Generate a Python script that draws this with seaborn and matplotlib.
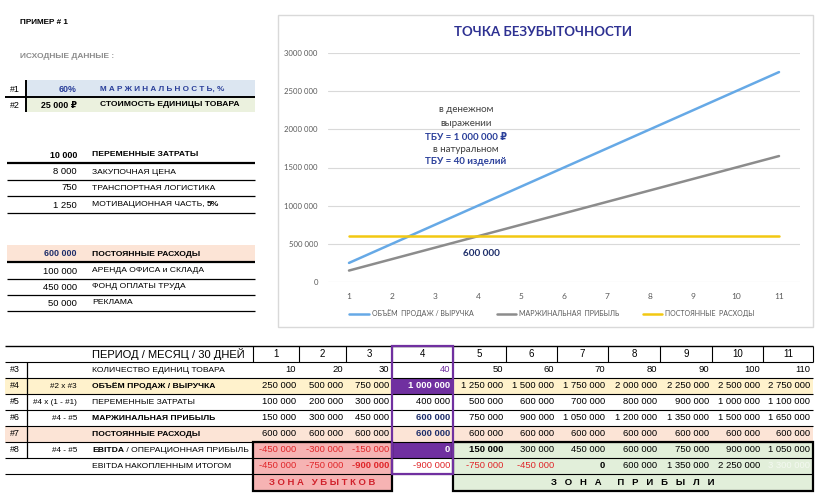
import matplotlib
matplotlib.use("Agg")
import matplotlib.pyplot as plt
import seaborn as sns
import pandas as pd
from matplotlib.patches import Rectangle

sns.set_theme(style="white")
TF = ["Liberation Sans", "DejaVu Sans"]
CF = ["Lato", "DejaVu Sans"]
plt.rcParams["font.family"] = TF

# ---------------- data ----------------
margin_pct = "60%"
unit_price = "25 000 ₽"
var_total = "10 000"
var_items = ["8 000", "750", "1 250"]
var_labels = ["ЗАКУПОЧНАЯ ЦЕНА", "ТРАНСПОРТНАЯ ЛОГИСТИКА", "МОТИВАЦИОННАЯ ЧАСТЬ, "]
fix_total = "600 000"
fix_items = ["100 000", "450 000", "50 000"]
fix_labels = ["АРЕНДА ОФИСА и СКЛАДА", "ФОНД ОПЛАТЫ ТРУДА", "РЕКЛАМА"]

periods = [1, 2, 3, 4, 5, 6, 7, 8, 9, 10, 11]
units = [10, 20, 30, 40, 50, 60, 70, 80, 90, 100, 110]
revenue = [250000, 500000, 750000, 1000000, 1250000, 1500000, 1750000, 2000000, 2250000, 2500000, 2750000]
variable = [100000, 200000, 300000, 400000, 500000, 600000, 700000, 800000, 900000, 1000000, 1100000]
margin = [150000, 300000, 450000, 600000, 750000, 900000, 1050000, 1200000, 1350000, 1500000, 1650000]
fixed = [600000, 600000, 600000, 600000, 600000, 600000, 600000, 600000, 600000, 600000, 600000]
ebitda = [-450000, -300000, -150000, 0, 150000, 300000, 450000, 600000, 750000, 900000, 1050000]
ebitda_cum = [-450000, -750000, -900000, -900000, -750000, -450000, 0, 600000, 1350000, 2250000, 3300000]

series_names = ["ОБЪЁМ  ПРОДАЖ / ВЫРУЧКА", "МАРЖИНАЛЬНАЯ  ПРИБЫЛЬ", "ПОСТОЯННЫЕ  РАСХОДЫ"]
ytick_vals = [0, 500000, 1000000, 1500000, 2000000, 2500000, 3000000]
ytick_labels = ["0", "500 000", "1000 000", "1500 000", "2000 000", "2500 000", "3000 000"]

# ---------------- figure ----------------
fig = plt.figure(figsize=(8.2, 5.04), dpi=100)
ax = fig.add_axes([0, 0, 1, 1])
ax.set_xlim(0, 820)
ax.set_ylim(504, 0)
ax.axis("off")

NAVY = "#1f2f6b"
BLUE_T = "#2a3f9a"
PURPLE = "#7030a0"
RED = "#e0262a"
PINK = "#f6b3b3"
GREEN = "#e2efda"
YEL = "#fff2cc"
PEACH = "#fce4d6"
LS = 6.1   # label size
NS = 6.8   # number size


def fmt(v):
    return f"{v:,}".replace(",", " ")


def t(x, y, s, size=LS, weight="normal", color="black", ha="left", family=None, **kw):
    return ax.text(x, y, s, fontsize=size, fontweight=weight, color=color, ha=ha, va="center",
                   family=family or TF, **kw)


def rect(x0, y0, x1, y1, fc="none", ec="none", lw=0, z=0):
    ax.add_patch(Rectangle((x0, y0), x1 - x0, y1 - y0, facecolor=fc, edgecolor=ec, linewidth=lw, zorder=z))


def hline(y, x0, x1, lw=0.8, c="black", z=2):
    ax.plot([x0, x1], [y, y], color=c, lw=lw, zorder=z, solid_capstyle="butt")


def vline(x, y0, y1, lw=0.8, c="black", z=2):
    ax.plot([x, x], [y0, y1], color=c, lw=lw, zorder=z, solid_capstyle="butt")


def after(txt):
    fig.canvas.draw()
    bb = txt.get_window_extent()
    return ax.transData.inverted().transform((bb.x1, bb.y0))[0]


# ---------------- top-left block ----------------
t(20, 22, "ПРИМЕР # 1", size=5.9, weight="bold")
t(20, 57, "ИСХОДНЫЕ ДАННЫЕ :", size=6.0, weight="bold", color="#8c8c8c")

rect(27, 80, 255, 97, fc="#dce6f1")
rect(27, 97, 255, 112, fc="#ebf1de")
hline(97, 5, 255, lw=1.4)
vline(26, 80, 112, lw=1.4)
t(10, 89, "#1", size=6.4)
t(10, 105, "#2", size=6.4)
t(77, 89, margin_pct, size=6.4, weight="bold", color=BLUE_T, ha="right")
t(77, 105, unit_price, size=6.4, weight="bold", ha="right")
t(100, 89, "М А Р Ж И Н А Л Ь Н О С Т Ь, %", size=5.9, weight="bold", color=BLUE_T)
t(100, 105, "СТОИМОСТЬ ЕДИНИЦЫ ТОВАРА", size=6.1, weight="bold")

# variable costs
t(77, 155, var_total, size=6.4, weight="bold", ha="right")
t(92, 155, "ПЕРЕМЕННЫЕ ЗАТРАТЫ", size=6.1, weight="bold")
hline(163, 7, 255, lw=1.6)
vy = [172, 188, 205]
for i, (v, lab) in enumerate(zip(var_items, var_labels)):
    t(77, vy[i], v, size=NS, ha="right")
    tx = t(92, vy[i], lab, size=6.1)
    if i == 2:
        t(after(tx), vy[i], "5%", size=6.1, weight="bold")
    hline(vy[i] + 8, 7, 255, lw=0.9)

# fixed costs
rect(7, 245, 255, 261, fc=PEACH)
t(77, 254, fix_total, size=6.4, weight="bold", color=NAVY, ha="right")
t(92, 254, "ПОСТОЯННЫЕ РАСХОДЫ", size=6.1, weight="bold")
hline(262, 7, 255, lw=1.6)
fy = [271, 287, 303]
for i, (v, lab) in enumerate(zip(fix_items, fix_labels)):
    t(77, fy[i], v, size=NS, ha="right")
    t(92, fy[i], lab, size=6.1)
    hline(fy[i] + 8, 7, 255, lw=0.9)

# ---------------- chart ----------------
rect(278, 15, 813, 327, ec="#d9d9d9", lw=1.0)
t(543, 32, "ТОЧКА БЕЗУБЫТОЧНОСТИ", size=9.5, weight="bold", color="#2e3192", ha="center", family=CF)

cax = fig.add_axes([327.5 / 820, (504 - 282) / 504, 473 / 820, 229 / 504])
cax.set_facecolor("none")
df = pd.DataFrame({
    "period": periods * 3,
    "value": revenue + margin + fixed,
    "series": [series_names[0]] * 11 + [series_names[1]] * 11 + [series_names[2]] * 11,
})
sns.lineplot(data=df, x="period", y="value", hue="series", hue_order=series_names,
             palette=["#66a9e6", "#8c8c8c", "#f2c812"], linewidth=1.8, ax=cax)
cax.set_xlim(0.5, 11.5)
cax.set_ylim(0, 3000000)
cax.set_xticks(periods)
cax.set_xticklabels([str(p) for p in periods], fontsize=6.0, color="#595959", family=CF)
cax.set_yticks(ytick_vals)
cax.set_yticklabels(ytick_labels, fontsize=5.6, color="#595959", family=CF)
cax.tick_params(axis="x", length=0, pad=8)
cax.tick_params(axis="y", length=0, pad=7)
cax.set_xlabel("")
cax.set_ylabel("")
for s in cax.spines.values():
    s.set_visible(False)
cax.grid(axis="y", color="#d9d9d9", lw=0.8)
cax.set_axisbelow(True)
leg = cax.legend(loc="center", bbox_to_anchor=((552 - 327.5) / 473, (282 - 313) / 229), ncol=3,
                 frameon=False, handlelength=2.8, handletextpad=0.4, columnspacing=3.4,
                 prop={"family": CF, "size": 5.0})
for txt in leg.get_texts():
    txt.set_color("#595959")

t(466, 110, "в денежном", size=7.0, color="#404040", ha="center", family=CF)
t(466, 123, "выражении", size=7.0, color="#404040", ha="center", family=CF)
t(466, 137, "ТБУ = 1 000 000 ₽", size=7.0, weight="bold", color=BLUE_T, ha="center", family=CF)
t(466, 149, "в натуральном", size=7.0, color="#404040", ha="center", family=CF)
t(466, 162, "ТБУ = 40 изделий", size=7.0, weight="bold", color=BLUE_T, ha="center", family=CF)
t(481, 254, "600 000", size=7.2, weight="bold", color=NAVY, ha="center", family=CF)

# ---------------- bottom table ----------------
edges = [253, 299, 346, 392, 453, 506, 557, 608, 660, 712, 763, 813]
y0 = 346
H = 16
rows_top = [y0 + H * k for k in range(9)]  # header, #3..#8, cum, zone


def rc(k):
    return rows_top[k] + H / 2


# backgrounds
rect(5, rows_top[2], 813, rows_top[3], fc=YEL)
rect(5, rows_top[5], 813, rows_top[6], fc=PEACH)
rect(edges[3], rows_top[2], edges[4], rows_top[3], fc=PURPLE)
rect(edges[3], rows_top[6], edges[4], rows_top[7], fc=PURPLE)
rect(edges[0], rows_top[6], edges[3], rows_top[8] + H + 1, fc=PINK)
rect(edges[4], rows_top[6], edges[11], rows_top[8] + H + 1, fc=GREEN)

# horizontal lines
hline(rows_top[0], 5, 813, lw=1.0)
for k in range(1, 9):
    hline(rows_top[k], 5, 813, lw=0.8)
for e in edges:
    vline(e, rows_top[0], rows_top[1], lw=0.8)
vline(27, rows_top[1], rows_top[7], lw=0.9)

# boxes
zb = rows_top[8] + H + 1
rect(edges[0], rows_top[6], edges[3], zb, ec="black", lw=1.6, z=4)
rect(edges[4], rows_top[6], edges[11], zb, ec="black", lw=1.6, z=4)
rect(edges[3], rows_top[0], edges[4], rows_top[8], ec=PURPLE, lw=1.6, z=5)

# header
t(92, rc(0), "ПЕРИОД / МЕСЯЦ / 30 ДНЕЙ", size=8.0)
for i, p in enumerate(periods):
    t((edges[i] + edges[i + 1]) / 2, rc(0), str(p), size=7.0, ha="center")

row_ids = ["#3", "#4", "#5", "#6", "#7", "#8"]
row_formula = ["", "#2 x #3", "#4 x (1 - #1)", "#4 - #5", "", "#4 - #5"]
row_labels = ["КОЛИЧЕСТВО ЕДИНИЦ ТОВАРА", "ОБЪЁМ ПРОДАЖ / ВЫРУЧКА", "ПЕРЕМЕННЫЕ ЗАТРАТЫ",
              "МАРЖИНАЛЬНАЯ ПРИБЫЛЬ", "ПОСТОЯННЫЕ РАСХОДЫ", "EBITDA"]
row_bold = [False, True, False, True, True, True]
row_vals = [units, revenue, variable, margin, fixed, ebitda]
for r in range(6):
    yc = rc(r + 1)
    t(10, yc, row_ids[r], size=6.4)
    if row_formula[r]:
        t(77, yc, row_formula[r], size=5.9, ha="right")
    tx = t(92, yc, row_labels[r], size=LS, weight="bold" if row_bold[r] else "normal")
    if r == 5:
        t(after(tx), yc, " / ОПЕРАЦИОННАЯ ПРИБЫЛЬ", size=LS)
    for i, v in enumerate(row_vals[r]):
        color, weight = "black", "normal"
        if r == 0 and i == 3:
            color = PURPLE
        if r == 1 and i == 3:
            color, weight = "white", "bold"
        if r in (3, 4) and i == 3:
            color, weight = NAVY, "bold"
        if r == 5:
            if v < 0:
                color = RED
            if i == 3:
                color, weight = "white", "bold"
            if i == 4:
                weight = "bold"
        t(edges[i + 1] - 3, yc, fmt(v), size=NS, color=color, weight=weight, ha="right", zorder=6)

# cumulative
yc = rc(7)
t(92, yc, "EBITDA НАКОПЛЕННЫМ ИТОГОМ", size=LS)
for i, v in enumerate(ebitda_cum):
    color, weight = "black", "normal"
    if v < 0:
        color = RED
    if i in (2, 6):
        weight = "bold"
    if i == 10:
        color = "#f4f9f1"
    t(edges[i + 1] - 3, yc, fmt(v), size=NS, color=color, weight=weight, ha="right", zorder=6)

# zones
zc = (rows_top[8] + zb) / 2
t((edges[0] + edges[3]) / 2, zc, "З О Н А   У Б Ы Т К О В", size=6.8, weight="bold", color="#d0202a", ha="center", zorder=6)
t((edges[4] + edges[11]) / 2, zc, "З   О   Н   А      П   Р   И   Б   Ы   Л   И", size=6.8, weight="bold", ha="center", zorder=6)

fig.savefig("out.png", dpi=100)
